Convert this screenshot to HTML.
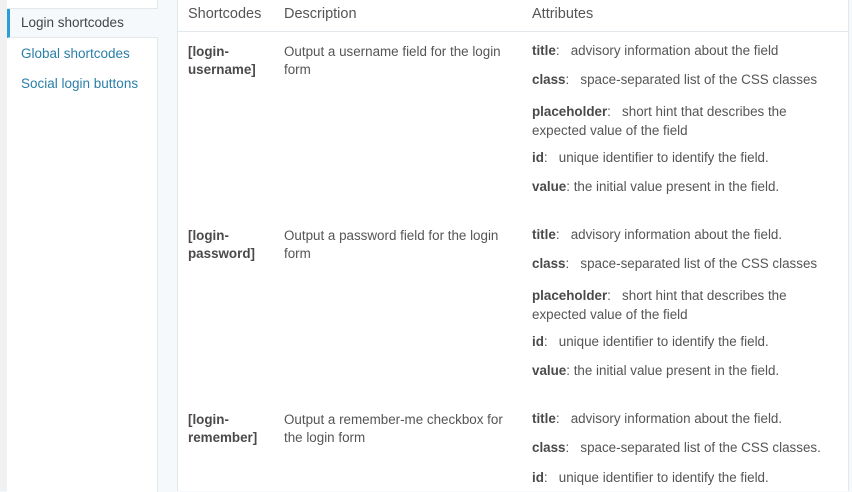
<!DOCTYPE html>
<html><head><style>
body{margin:0;width:852px;height:491px;overflow:hidden;background:#f5f9fc;font-family:"Liberation Sans",sans-serif;font-size:13.4px;color:#555;position:relative}
.a{position:absolute;white-space:nowrap}
b{font-weight:bold;color:#4a4a4a}
</style></head><body>
<div class="a" style="left:0;top:0;width:7px;height:491px;background:#f1f1f1"></div>
<div class="a" style="left:7px;top:-1px;width:150px;height:493px;background:#fff;border-right:1px solid #e3e8ec"></div>
<div class="a" style="left:7px;top:8px;width:150px;border-top:1px solid #e3e8ec"></div>
<div class="a" style="left:7px;top:9px;width:148px;height:28px;background:#f5f9fc;border-left:3px solid #2a9fd6;border-bottom:1px solid #e3e8ec"></div>
<div class="a" style="left:21px;top:15px;color:#444;font-size:13.5px">Login shortcodes</div>
<div class="a" style="left:21px;top:46px;color:#2a7fa8;font-size:13.5px">Global shortcodes</div>
<div class="a" style="left:21px;top:76px;color:#2a7fa8;font-size:13.5px">Social login buttons</div>
<div class="a" style="left:177px;top:0;width:670px;height:491px;background:#fff;border-left:1px solid #e3e8ec;border-right:1px solid #e3e8ec"></div>
<div class="a" style="left:178px;top:31px;width:670px;border-top:1px solid #e3e8ec"></div>
<div class="a" style="left:188px;top:6px;font-size:14.5px">Shortcodes</div>
<div class="a" style="left:284px;top:6px;font-size:14.5px">Description</div>
<div class="a" style="left:532px;top:6px;font-size:14.5px">Attributes</div>

<div class="a" style="left:188px;top:43px;line-height:18px"><b>[login-<br>username]</b></div>
<div class="a" style="left:284px;top:43px;line-height:18px">Output a username field for the login<br>form</div>
<div class="a" style="left:532px;top:43px"><b>title</b>:&nbsp;&nbsp; advisory information about the field</div>
<div class="a" style="left:532px;top:72px"><b>class</b>:&nbsp;&nbsp; space-separated list of the CSS classes</div>
<div class="a" style="left:532px;top:102px;line-height:19px"><b>placeholder</b>:&nbsp;&nbsp; short hint that describes the<br>expected value of the field</div>
<div class="a" style="left:532px;top:150px"><b>id</b>:&nbsp;&nbsp; unique identifier to identify the field.</div>
<div class="a" style="left:532px;top:179px"><b>value</b>: the initial value present in the field.</div>

<div class="a" style="left:188px;top:227px;line-height:18px"><b>[login-<br>password]</b></div>
<div class="a" style="left:284px;top:227px;line-height:18px">Output a password field for the login<br>form</div>
<div class="a" style="left:532px;top:227px"><b>title</b>:&nbsp;&nbsp; advisory information about the field.</div>
<div class="a" style="left:532px;top:256px"><b>class</b>:&nbsp;&nbsp; space-separated list of the CSS classes</div>
<div class="a" style="left:532px;top:286px;line-height:19px"><b>placeholder</b>:&nbsp;&nbsp; short hint that describes the<br>expected value of the field</div>
<div class="a" style="left:532px;top:334px"><b>id</b>:&nbsp;&nbsp; unique identifier to identify the field.</div>
<div class="a" style="left:532px;top:363px"><b>value</b>: the initial value present in the field.</div>

<div class="a" style="left:188px;top:411px;line-height:18px"><b>[login-<br>remember]</b></div>
<div class="a" style="left:284px;top:411px;line-height:18px">Output a remember-me checkbox for<br>the login form</div>
<div class="a" style="left:532px;top:411px"><b>title</b>:&nbsp;&nbsp; advisory information about the field.</div>
<div class="a" style="left:532px;top:440px"><b>class</b>:&nbsp;&nbsp; space-separated list of the CSS classes.</div>
<div class="a" style="left:532px;top:470px"><b>id</b>:&nbsp;&nbsp; unique identifier to identify the field.</div>
</body></html>
